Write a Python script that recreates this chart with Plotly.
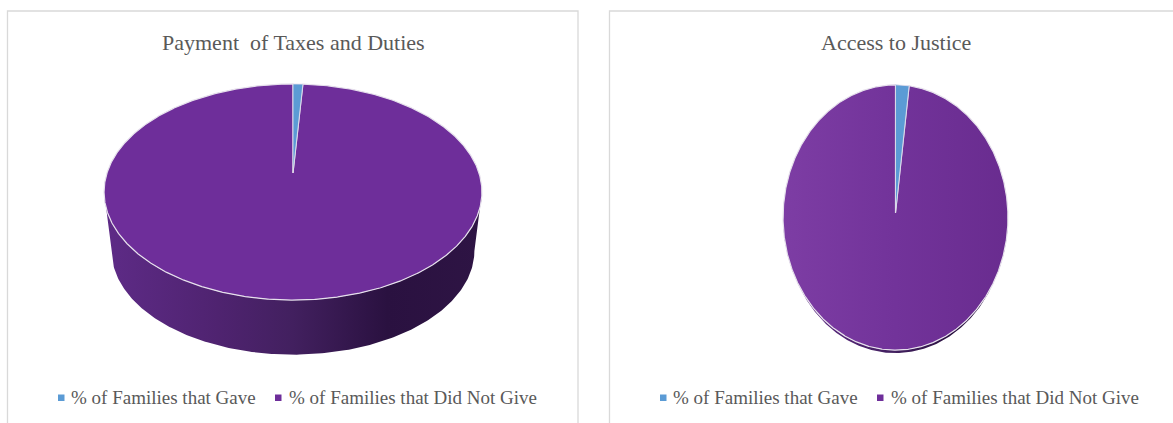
import numpy as np
import plotly.graph_objects as go

# Survey shares per panel
panel_titles = ["Payment\u00a0 of Taxes and Duties", "Access to Justice"]
gave = [1, 2]
did_not_give = [99, 98]
legend_labels = ["% of Families that Gave", "% of Families that Did Not Give"]

BLUE = "#5B9BD5"
PURPLE = "#6E2E9A"
W, H = 1173, 423

# Layout of each panel in pixels and the tilt of its disc.
panels = [
    dict(left=7.5, right=578, top=11, cx=293, cy=173, sx=186, sy=104.7, p=0.176,
         depth=0.57, taper=0.96, legend=(58, 68.5, 275, 286.5)),
    dict(left=609.5, right=1180, top=11, cx=895.5, cy=213, sx=112.4, sy=132.5, p=0.034,
         depth=0.043, taper=0.98, legend=(660, 670.5, 877, 888.5)),
]

WALL_SCALE = [[0, "#5e2b87"], [0.3, "#4f2370"], [0.5, "#42205f"],
              [0.75, "#2a1140"], [1, "#2e1444"]]
FACE_SCALE = [[0, "#7d3da4"], [0.5, "#72339a"], [1, "#692c8f"]]


def rim(theta, p):
    """Project a point of the unit circle onto the tilted disc (clockwise from 12 o'clock)."""
    w = 1 + p * np.cos(theta)
    return np.sin(theta) / w, np.cos(theta) / w


def slice_path(start, end, p):
    n = max(int((end - start) * 200), 8)
    th = np.linspace(start, end, n)
    x, y = rim(th, p)
    return np.r_[0, x, 0], np.r_[0, y, 0]


def px_x(v):
    return v / W


def px_y(v):
    return 1 - v / H


fig = go.Figure()
layout = dict(
    width=W, height=H, margin=dict(l=0, r=0, t=0, b=0),
    paper_bgcolor="white", plot_bgcolor="rgba(0,0,0,0)", showlegend=False,
    hovermode="closest",
)
shapes, annotations = [], []

for i, pn in enumerate(panels):
    suffix = "" if i == 0 else str(i + 1)
    xa, ya = "x" + suffix, "y" + suffix
    p = pn["p"]
    share_gave = gave[i] / (gave[i] + did_not_give[i])
    split = 2 * np.pi * share_gave

    # Side wall: front half of the top rim closed by the lower rim.
    th_lo = np.arccos(-p)
    th = np.linspace(th_lo, 2 * np.pi - th_lo, 240)
    tx, ty = rim(th, p)
    bx = pn["taper"] * tx
    by = pn["taper"] * ty - pn["depth"]
    wall_x = np.r_[tx, bx[::-1], tx[0]]
    wall_y = np.r_[ty, by[::-1], ty[0]]
    fig.add_trace(go.Scatter(
        x=wall_x, y=wall_y, xaxis=xa, yaxis=ya, mode="lines", fill="toself",
        line=dict(width=0, color="#2e1444"), hoverinfo="skip",
        fillgradient=dict(type="horizontal", colorscale=WALL_SCALE),
    ))

    # Top face slices
    x1, y1 = slice_path(split, 2 * np.pi, p)
    face = dict(fillgradient=dict(type="horizontal", colorscale=FACE_SCALE)) if i == 1 else dict(fillcolor=PURPLE)
    fig.add_trace(go.Scatter(
        x=x1, y=y1, xaxis=xa, yaxis=ya, mode="lines", fill="toself",
        line=dict(width=1.2, color="#e6e0ec"), name=legend_labels[1],
        text=f"{did_not_give[i]}%", hoverinfo="name+text", **face,
    ))
    x0, y0 = slice_path(0, split, p)
    fig.add_trace(go.Scatter(
        x=x0, y=y0, xaxis=xa, yaxis=ya, mode="lines", fill="toself",
        line=dict(width=0.8, color="#e6e0ec"), fillcolor=BLUE, name=legend_labels[0],
        text=f"{gave[i]}%", hoverinfo="name+text",
    ))

    # Axes carry the stretch of the disc, so one data unit equals sx / sy pixels.
    right_edge = min(pn["right"], W)
    layout["xaxis" + suffix] = dict(
        domain=[px_x(pn["left"]), px_x(right_edge)],
        range=[(pn["left"] - pn["cx"]) / pn["sx"], (right_edge - pn["cx"]) / pn["sx"]],
        visible=False, fixedrange=True,
    )
    layout["yaxis" + suffix] = dict(
        domain=[0, px_y(pn["top"])],
        range=[(pn["cy"] - H) / pn["sy"], (pn["cy"] - pn["top"]) / pn["sy"]],
        visible=False, fixedrange=True,
    )

    # Panel frame, open at the page edge
    shapes.append(dict(
        type="rect", xref="paper", yref="paper", layer="below",
        x0=px_x(pn["left"]), x1=px_x(pn["right"]),
        y0=px_y(H + 10), y1=px_y(pn["top"]),
        line=dict(color="#d9d9d9", width=1.3), fillcolor="white",
    ))

    # Title
    annotations.append(dict(
        text=panel_titles[i], xref="paper", yref="paper",
        x=px_x(pn["cx"]), y=px_y(42), xanchor="center", yanchor="middle",
        showarrow=False, font=dict(family="Liberation Serif", size=22, color="#595959"),
    ))

    # Legend row
    sw1, tx1, sw2, tx2 = pn["legend"]
    for sw, tx_pos, col, lab in ((sw1, tx1, BLUE, legend_labels[0]), (sw2, tx2, PURPLE, legend_labels[1])):
        shapes.append(dict(
            type="rect", xref="paper", yref="paper",
            x0=px_x(sw), x1=px_x(sw + 6.5), y0=px_y(401), y1=px_y(394.5),
            fillcolor=col, line=dict(width=0),
        ))
        annotations.append(dict(
            text=lab, xref="paper", yref="paper", x=px_x(tx_pos), y=px_y(397),
            xanchor="left", yanchor="middle", showarrow=False,
            font=dict(family="Liberation Serif", size=19, color="#595959"),
        ))

fig.update_layout(**layout, shapes=shapes, annotations=annotations)
fig.write_html("out.html", config=dict(displayModeBar=False))
